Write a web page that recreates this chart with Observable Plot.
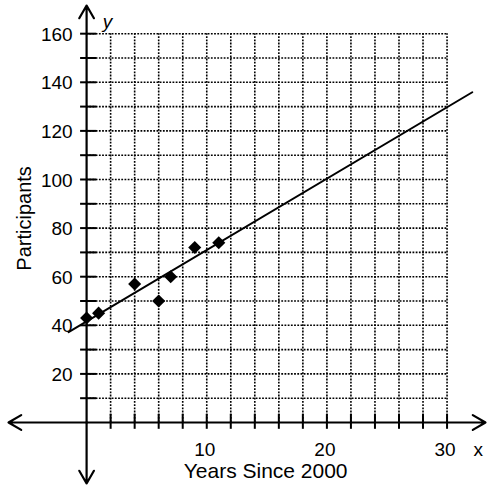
<!DOCTYPE html>
<html>
<head>
<meta charset="utf-8">
<script src="https://cdn.jsdelivr.net/npm/d3@7"></script>
<script src="https://cdn.jsdelivr.net/npm/@observablehq/plot@0.6"></script>
<style>
  html, body { margin: 0; padding: 0; background: #fff; }
  #chart svg { display: block; }
</style>
</head>
<body>
<div id="chart"></div>
<script>
// Data
const years = [0, 1, 4, 6, 7, 9, 11];
const participants = [43, 45, 57, 50, 60, 72, 74];
// line of fit endpoints
const fitX = [-1.5, 32.1];
const fitY = [37.2, 135.9];
// axis ticks and labels
const xGrid = d3.range(2, 31, 2);
const yGrid = d3.range(10, 161, 10);
const xTickLabels = [10, 20, 30];
const yTickLabels = [20, 40, 60, 80, 100, 120, 140, 160];

const points = years.map((x, i) => ({x, y: participants[i]}));
const fit = fitX.map((x, i) => ({x, y: fitY[i]}));

const font = "'Liberation Sans', Arial, sans-serif";

const chart = Plot.plot({
  width: 487,
  height: 486,
  marginLeft: 8,
  marginRight: 2,
  marginTop: 5,
  marginBottom: 3,
  style: {fontFamily: font, background: "#fff", color: "#000"},
  x: {domain: [-6.5, 33.2], axis: null},
  y: {domain: [-25.1, 171.6], axis: null},
  marks: [
    // dotted grid
    Plot.ruleX(xGrid, {x: d => d, y1: 0, y2: 160, stroke: "#000", strokeWidth: 1.6, strokeDasharray: "1.8,1.4"}),
    Plot.ruleY(yGrid, {y: d => d, x1: 0, x2: 30, stroke: "#000", strokeWidth: 1.6, strokeDasharray: "1.8,1.4"}),
    // axes with arrows
    Plot.arrow([{x1: 0, y1: 0, x2: 33.2, y2: 0}, {x1: 0, y1: 0, x2: -6.5, y2: 0},
                {x1: 0, y1: 0, x2: 0, y2: 171.6}, {x1: 0, y1: 0, x2: 0, y2: -25.1}],
      {x1: "x1", y1: "y1", x2: "x2", y2: "y2", stroke: "#000", strokeWidth: 2.2, headLength: 10, insetStart: 0, insetEnd: 0}),
    // tick marks
    Plot.ruleX(xGrid, {x: d => d, y1: -2.8, y2: 3.4, stroke: "#000", strokeWidth: 2}),
    Plot.ruleY(yGrid, {y: d => d, x1: -0.5, x2: 0.85, stroke: "#000", strokeWidth: 2}),
    // tick labels
    Plot.text(yTickLabels, {x: 0, y: d => d, text: d => String(d), textAnchor: "end", dx: -14, dy: 1, fontSize: 19, fill: "#000"}),
    Plot.text(xTickLabels, {x: d => d, y: 0, text: d => String(d), dy: 27, dx: -2, fontSize: 19, fill: "#000"}),
    // axis names
    Plot.text(["x"], {x: 32.6, y: 0, text: d => d, dy: 27, fontSize: 19, fill: "#000"}),
    Plot.text(["y"], {x: 1.75, y: 165, text: d => d, fontSize: 19, fontStyle: "italic", fill: "#000"}),
    Plot.text(["Years Since 2000"], {x: 14.9, y: -20.2, text: d => d, fontSize: 21, fill: "#000"}),
    Plot.text(["Participants"], {x: -5.15, y: 84, text: d => d, rotate: -90, fontSize: 20, fill: "#000"}),
    // line of fit
    Plot.line(fit, {x: "x", y: "y", stroke: "#000", strokeWidth: 2}),
    // data points
    Plot.dot(points, {x: "x", y: "y", symbol: "diamond2", r: 5.9, fill: "#000", stroke: "none"})
  ]
});
document.getElementById("chart").appendChild(chart);
</script>
</body>
</html>
